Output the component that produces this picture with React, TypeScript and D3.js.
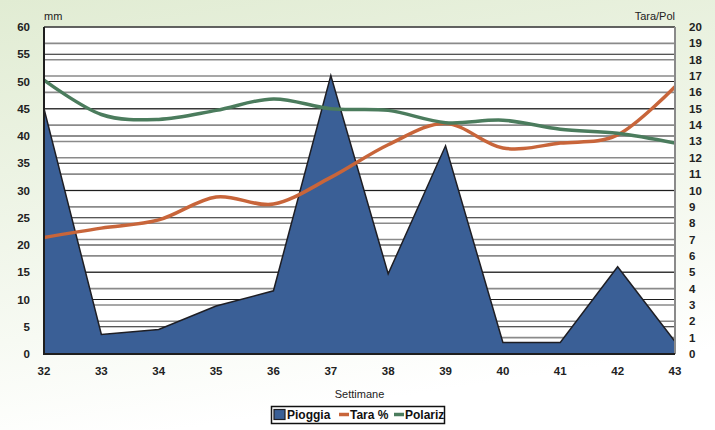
import React from "react";
import * as d3 from "d3";

const weeks = [32, 33, 34, 35, 36, 37, 38, 39, 40, 41, 42, 43];
const pioggia = [45, 3.6, 4.5, 8.8, 11.6, 51.1, 14.7, 38.2, 2.1, 2.1, 16, 2.3];
const tara = [7.13, 7.7, 8.2, 9.6, 9.17, 10.8, 12.8, 14.1, 12.6, 12.9, 13.4, 16.35];
const polariz = [16.75, 14.65, 14.35, 14.9, 15.6, 15.0, 14.9, 14.15, 14.3, 13.75, 13.5, 12.9];
const leftTicks = d3.range(0, 61, 5);
const rightTicks = d3.range(0, 21, 1);

const W = 715, H = 430;
const M = { left: 44, right: 675, top: 27, bottom: 354 };

export default function App() {
  const x = d3.scaleLinear().domain([32, 43]).range([M.left, M.right]);
  const yL = d3.scaleLinear().domain([0, 60]).range([M.bottom, M.top]);
  const yR = d3.scaleLinear().domain([0, 20]).range([M.bottom, M.top]);

  const area = d3
    .area<number>()
    .x((_, i) => x(weeks[i]))
    .y0(yL(0))
    .y1((d) => yL(d));
  const line = d3
    .line<number>()
    .x((_, i) => x(weeks[i]))
    .y((d) => yR(d))
    .curve(d3.curveCardinal.tension(0));

  const font = "'Liberation Sans', Arial, sans-serif";
  const blue = "#3a5f96";
  const orange = "#c8653a";
  const green = "#4b7c5d";

  return (
    <svg
      width={W}
      height={H}
      style={{ position: "fixed", left: 0, top: 0, display: "block" }}
      fontFamily={font}
    >
      <defs>
        <linearGradient id="bg" x1="0" y1="0" x2="0.25" y2="1">
          <stop offset="0%" stopColor="#e1ecd3" />
          <stop offset="75%" stopColor="#f7faf3" />
          <stop offset="100%" stopColor="#ffffff" />
        </linearGradient>
        <clipPath id="plot">
          <rect x={M.left} y={M.top - 1} width={M.right - M.left} height={M.bottom - M.top + 1} />
        </clipPath>
      </defs>
      <rect x={0} y={0} width={W} height={H} fill="url(#bg)" />
      <rect x={M.left} y={M.top} width={M.right - M.left} height={M.bottom - M.top} fill="#ffffff" />

      {/* right axis gridlines (gray) */}
      {rightTicks.map((t) => (
        <line key={"r" + t} x1={M.left} x2={M.right} y1={yR(t)} y2={yR(t)} stroke="#8a8a8a" strokeWidth={1.6} />
      ))}
      {/* left axis gridlines (black) */}
      {leftTicks.map((t) => (
        <line key={"l" + t} x1={M.left} x2={M.right} y1={yL(t)} y2={yL(t)} stroke="#1e1e1e" strokeWidth={1.2} />
      ))}

      <g clipPath="url(#plot)">
        <path d={area(pioggia) || ""} fill={blue} stroke="#1e1e24" strokeWidth={1.5} strokeLinejoin="miter" />
        <path d={line(tara) || ""} fill="none" stroke={orange} strokeWidth={3.5} />
        <path d={line(polariz) || ""} fill="none" stroke={green} strokeWidth={3.5} />
      </g>

      {/* borders */}
      <line x1={M.right} x2={M.right} y1={M.top} y2={M.bottom} stroke="#8a8a8a" strokeWidth={2} />
      <line x1={M.left} x2={M.left} y1={M.top} y2={M.bottom + 1} stroke="#1e1e1e" strokeWidth={2} />
      <line x1={M.left - 1} x2={M.right} y1={M.bottom} y2={M.bottom} stroke="#1e1e1e" strokeWidth={2.2} />

      {/* left tick labels */}
      {leftTicks.map((t) => (
        <text key={"lt" + t} x={30} y={yL(t)} dy="0.35em" textAnchor="end" fontSize={11.5} fontWeight="bold" fill="#222">
          {t}
        </text>
      ))}
      {/* right tick labels */}
      {rightTicks.map((t) => (
        <text key={"rt" + t} x={689} y={yR(t)} dy="0.35em" textAnchor="start" fontSize={11.5} fontWeight="bold" fill="#222">
          {t}
        </text>
      ))}
      {/* x tick labels */}
      {weeks.map((w) => (
        <text key={"x" + w} x={x(w)} y={371} dy="0.35em" textAnchor="middle" fontSize={11.5} fontWeight="bold" fill="#222">
          {w}
        </text>
      ))}

      <text x={44} y={16} dy="0.35em" fontSize={11} fill="#222">mm</text>
      <text x={675} y={16} dy="0.35em" textAnchor="end" fontSize={11} fill="#222">Tara/Pol</text>
      <text x={(M.left + M.right) / 2} y={394} dy="0.35em" textAnchor="middle" fontSize={11} fill="#222">Settimane</text>

      {/* legend */}
      <g>
        <rect x={271.5} y={406.5} width={173} height={17} fill="#ffffff" stroke="#111" strokeWidth={1.5} />
        <rect x={274} y={409.5} width={11} height={10} fill={blue} stroke="#1e1e24" strokeWidth={1.2} />
        <text x={287} y={415} dy="0.35em" fontSize={12} fontWeight="bold" fill="#111">Pioggia</text>
        <line x1={339} x2={349} y1={414.5} y2={414.5} stroke={orange} strokeWidth={3.5} />
        <text x={350} y={415} dy="0.35em" fontSize={12} fontWeight="bold" fill="#111">Tara %</text>
        <line x1={394} x2={404} y1={414.5} y2={414.5} stroke={green} strokeWidth={3.5} />
        <text x={405} y={415} dy="0.35em" fontSize={12} fontWeight="bold" fill="#111">Polariz</text>
      </g>
    </svg>
  );
}
